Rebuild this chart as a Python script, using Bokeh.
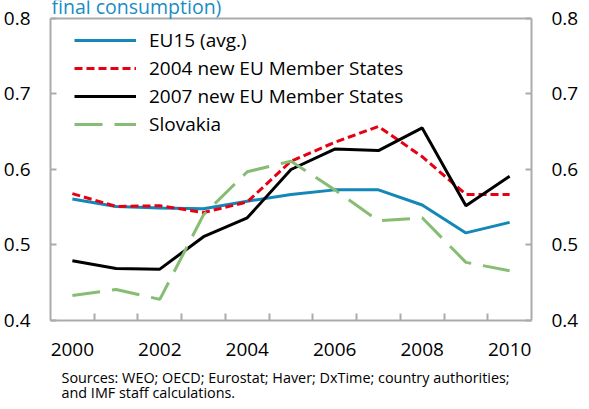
from bokeh.plotting import figure
from bokeh.models import Range1d, LinearAxis, FixedTicker, Legend, LegendItem, Label, Title, Span
from bokeh.embed import file_html
from bokeh.resources import INLINE

years = [2000, 2001, 2002, 2003, 2004, 2005, 2006, 2007, 2008, 2009, 2010]
eu15 = [0.561, 0.551, 0.549, 0.548, 0.558, 0.567, 0.573, 0.573, 0.553, 0.516, 0.530]
nms2004 = [0.568, 0.551, 0.552, 0.543, 0.557, 0.611, 0.636, 0.657, 0.617, 0.567, 0.567]
nms2007 = [0.479, 0.469, 0.468, 0.511, 0.536, 0.600, 0.627, 0.625, 0.655, 0.552, 0.591]
slovakia = [0.433, 0.441, 0.428, 0.540, 0.597, 0.611, 0.573, 0.532, 0.536, 0.477, 0.466]
x_tick_labels = [2000, 2002, 2004, 2006, 2008, 2010]
y_ticks = [0.4, 0.5, 0.6, 0.7, 0.8]

FONT = "Open Sans"
AXIS_GRAY = "#ababab"

p = figure(width=581, height=409, output_backend="svg", toolbar_location=None,
           x_range=Range1d(1999.5, 2010.5), y_range=Range1d(0.4, 0.8238),
           min_border_left=49, min_border_right=48, min_border_top=0, min_border_bottom=89)
p.xgrid.visible = False
p.ygrid.visible = False
p.outline_line_color = None
p.background_fill_color = "white"
p.border_fill_color = "white"

boundaries = [y + 0.5 for y in years[:-1]]
p.xaxis.ticker = FixedTicker(ticks=x_tick_labels, minor_ticks=boundaries)
p.xaxis.major_tick_in = 0
p.xaxis.major_tick_out = 0
p.xaxis.minor_tick_in = 7
p.xaxis.minor_tick_out = 0
p.xaxis.minor_tick_line_color = AXIS_GRAY
p.xaxis.minor_tick_line_width = 2
p.xaxis.axis_line_color = AXIS_GRAY
p.xaxis.axis_line_width = 2
p.xaxis.major_label_text_font = FONT
p.xaxis.major_label_text_font_size = "19px"
p.xaxis.major_label_text_color = "black"
p.xaxis.major_label_standoff = 22

def style_y(ax, standoff):
    ax.ticker = FixedTicker(ticks=y_ticks, minor_ticks=[])
    ax.bounds = (y_ticks[0], y_ticks[-1])
    ax.major_tick_in = 6
    ax.major_tick_out = 0
    ax.minor_tick_in = 0
    ax.minor_tick_out = 0
    ax.major_tick_line_color = AXIS_GRAY
    ax.major_tick_line_width = 2
    ax.axis_line_color = AXIS_GRAY
    ax.axis_line_width = 2
    ax.major_label_text_font = FONT
    ax.major_label_text_font_size = "19px"
    ax.major_label_text_color = "black"
    ax.major_label_standoff = standoff

style_y(p.yaxis[0], 20)
right_ax = LinearAxis()
style_y(right_ax, 20)
p.add_layout(right_ax, "right")

p.add_layout(Span(location=y_ticks[-1], dimension="width", line_color=AXIS_GRAY, line_width=2))

r1 = p.line(years, eu15, line_color="#1287b8", line_width=3)
r2 = p.line(years, nms2004, line_color="#e60012", line_width=3, line_dash="8 4")
r3 = p.line(years, nms2007, line_color="black", line_width=3)
r4 = p.line(years, slovakia, line_color="#86bd72", line_width=3, line_dash="28 12")

legend = Legend(items=[
    LegendItem(label="EU15 (avg.)", renderers=[r1]),
    LegendItem(label="2004 new EU Member States", renderers=[r2]),
    LegendItem(label="2007 new EU Member States", renderers=[r3]),
    LegendItem(label="Slovakia", renderers=[r4]),
], location=(24, 183))
legend.border_line_color = None
legend.background_fill_alpha = 0
legend.padding = 0
legend.margin = 0
legend.spacing = 2
legend.glyph_width = 62
legend.glyph_height = 20
legend.label_height = 20
legend.label_standoff = 13
legend.label_text_font = FONT
legend.label_text_font_size = "19px"
legend.label_text_color = "black"
p.add_layout(legend)

p.add_layout(Label(x=1, y=314, x_units="screen", y_units="screen",
                   text="final consumption)", text_font=FONT, text_font_size="19.5px",
                   text_color="#1a8cc4", text_baseline="alphabetic"))

src = Title(text="Sources: WEO; OECD; Eurostat; Haver; DxTime; country authorities;\nand IMF staff calculations.",
            align="left", offset=11, standoff=15, text_font=FONT, text_font_size="14.4px",
            text_line_height=0.8, text_font_style="normal", text_color="black")
p.add_layout(src, "below")

open("out.html", "w").write(file_html(p, INLINE))
